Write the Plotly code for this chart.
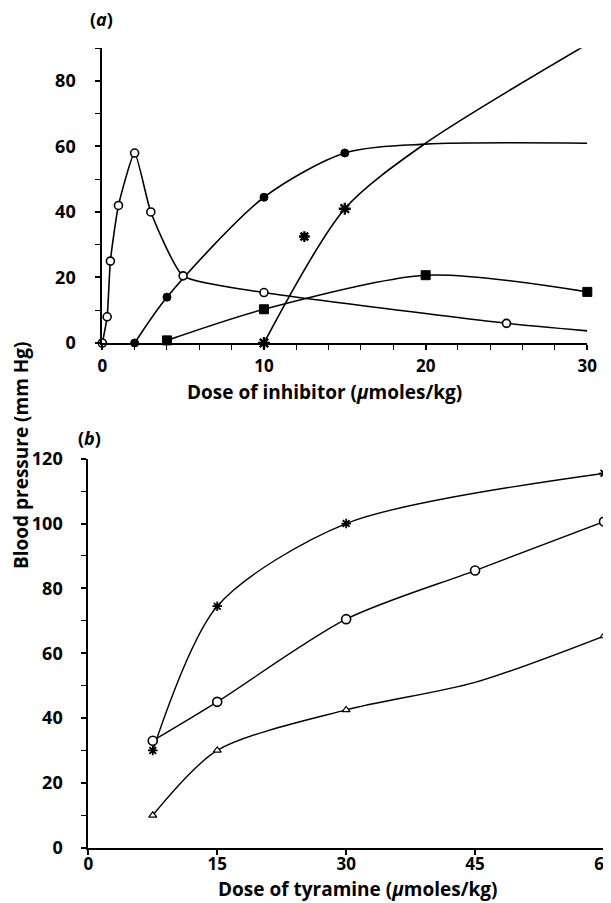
import plotly.graph_objects as go

# ---------- Panel (a): dose of inhibitor ----------
oc_x = [0, 0.3, 0.5, 1, 2, 3, 5, 10, 25]
oc_y = [0, 8, 25, 42, 58, 40, 20.5, 15.4, 6]
oc_line_x = [0, 0.3, 0.5, 1, 2, 3, 5, 10, 25, 30]
oc_line_y = [0, 8, 25, 42, 58, 40, 20.5, 15.4, 6, 3.7]

fc_x = [2, 4, 10, 15]
fc_y = [0, 14, 44.5, 58]
fc_line_x = [2, 4, 10, 15, 20, 30]
fc_line_y = [0, 14, 44.5, 58, 60.7, 61]

sq_x = [4, 10, 20, 30]
sq_y = [0.8, 10.3, 20.7, 15.6]

st_x = [10, 15, 30]
st_y = [0, 41, 91.2]
st_line_x = [10, 15, 20, 30]
st_line_y = [0, 41, 61, 91.2]
st_extra_x = [12.5]
st_extra_y = [32.5]

a_xticks = [0, 10, 20, 30]
a_yticks = [0, 20, 40, 60, 80]

# ---------- Panel (b): dose of tyramine ----------
b_st_x = [7.5, 15, 30, 60]
b_st_y = [30, 74.5, 100, 115.5]

b_oc_x = [7.5, 15, 30, 45, 60]
b_oc_y = [33, 45, 70.5, 85.5, 100.6]

b_tr_x = [7.5, 15, 30, 60]
b_tr_y = [10, 30, 42.5, 65.3]
b_tr_line_x = [7.5, 15, 30, 45, 60]
b_tr_line_y = [10, 30, 42.5, 51, 65.3]

b_xticks = [0, 15, 30, 45, 60]
b_yticks = [0, 20, 40, 60, 80, 100, 120]

FONT = "Open Sans"
W, H = 611, 903
OFF = 8  # page body margin in the browser


def px(x):
    return (x - OFF) / W


def py(y):
    return 1 - (y - OFF) / H


fig = go.Figure()


def line(x, y, xa, ya, width=1.6, smooth=0.8):
    fig.add_trace(go.Scatter(x=x, y=y, mode="lines", xaxis=xa, yaxis=ya,
                             line=dict(color="black", width=width, shape="spline", smoothing=smooth),
                             hoverinfo="skip", showlegend=False, cliponaxis=False))


def marks(x, y, xa, ya, symbol, size, lw=1.5, fill="black"):
    fig.add_trace(go.Scatter(x=x, y=y, mode="markers", xaxis=xa, yaxis=ya,
                             marker=dict(symbol=symbol, size=size, color=fill,
                                         line=dict(color="black", width=lw)),
                             showlegend=False, cliponaxis=False))


# panel (a)
line(oc_line_x, oc_line_y, "x", "y", smooth=0.5)
line(fc_line_x, fc_line_y, "x", "y")
line(sq_x, sq_y, "x", "y")
line(st_line_x, st_line_y, "x", "y")
marks(oc_x, oc_y, "x", "y", "circle", 8, 1.6, "white")
marks(fc_x, fc_y, "x", "y", "circle", 8, 1, "black")
marks(sq_x, sq_y, "x", "y", "square", 9, 1, "black")
marks(st_x, st_y, "x", "y", "asterisk-open", 10, 2.4)
marks(st_extra_x, st_extra_y, "x", "y", "asterisk-open", 9, 2.4)

# panel (b)
line(b_st_x, b_st_y, "x2", "y2", width=1.4)
line(b_oc_x, b_oc_y, "x2", "y2", width=1.4)
line(b_tr_line_x, b_tr_line_y, "x2", "y2", width=1.4)
marks(b_st_x, b_st_y, "x2", "y2", "asterisk-open", 8, 1.8)
marks(b_oc_x, b_oc_y, "x2", "y2", "circle", 9, 1.6, "white")
marks(b_tr_x, b_tr_y, "x2", "y2", "triangle-up", 7, 1.2, "white")


def axis(dom, anchor, rng, ticks_major, dtick, standoff, fsize=18):
    d = dict(domain=dom, anchor=anchor, range=rng, showgrid=False, zeroline=False,
             showline=True, linecolor="black", linewidth=2, automargin=False,
             ticks="outside", ticklen=5, tickwidth=1.6, tickcolor="black",
             tickmode="array", tickvals=ticks_major,
             tickfont=dict(family=FONT, size=fsize, color="black", weight="bold"),
             ticklabelstandoff=standoff, fixedrange=True)
    if dtick:
        d["minor"] = dict(ticks="outside", ticklen=5, tickwidth=1.4, tickcolor="black",
                          dtick=dtick, showgrid=False)
    return d


xa = axis([px(102.3), px(587.3)], "y", [0, 30], a_xticks, 2, 2, 17)
ya = axis([py(343), py(48.2)], "x", [0, 90], a_yticks, 10, 16)
xb = axis([px(88.3), px(604)], "y2", [0, 60], b_xticks, None, -5, 17)
yb = axis([py(847.7), py(458.7)], "x2", [0, 120], b_yticks, 10, 15)


def ann(text, x, y, angle=0, size=19):
    return dict(text=text, x=px(x), y=py(y), xref="paper", yref="paper",
                showarrow=False, xanchor="center", yanchor="middle",
                textangle=angle,
                font=dict(family=FONT, size=size, color="black", weight="bold"))


annotations = [
    ann("(<i>a</i>)", 101, 19, size=18),
    ann("(<i>b</i>)", 89, 438, size=18),
    ann("Dose of inhibitor (<i>μ</i>moles/kg)", 324, 392),
    ann("Dose of tyramine (<i>μ</i>moles/kg)", 358, 889),
    ann("Blood pressure (mm Hg)", 21, 455, angle=-90),
]

fig.update_layout(
    width=W, height=H,
    margin=dict(l=0, r=0, t=0, b=0),
    paper_bgcolor="white", plot_bgcolor="white",
    xaxis=xa, yaxis=ya, xaxis2=xb, yaxis2=yb,
    annotations=annotations,
    showlegend=False,
    font=dict(family=FONT, color="black"),
)

fig.write_html("out.html")
